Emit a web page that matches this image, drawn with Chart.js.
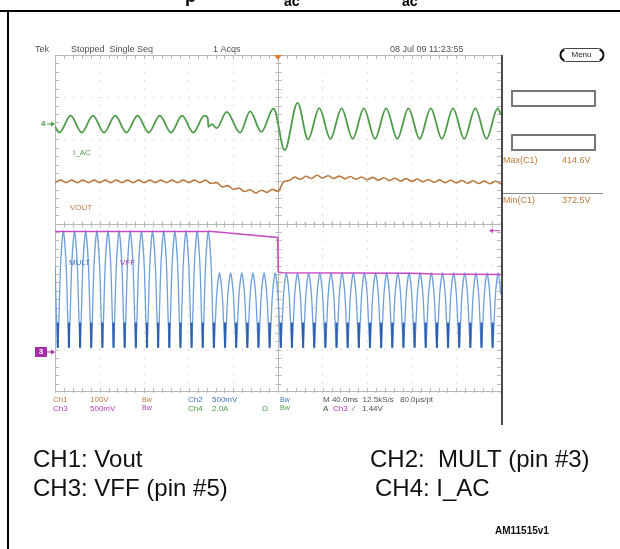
<!DOCTYPE html>
<html>
<head>
<meta charset="utf-8">
<title>Line step response</title>
<script src="https://cdn.jsdelivr.net/npm/chart.js@4.4.0/dist/chart.umd.min.js"></script>
<style>
  html, body { margin: 0; padding: 0; background: #fff; }
  #wrap { width: 620px; height: 549px; }
</style>
</head>
<body>
<div id="wrap"><canvas id="scope" width="620" height="549"></canvas></div>
<script>
// time base: 10 divisions of 40 ms, trigger in the middle
const timeBase = 40;
const tMax = 400;
const trigTime = 200;

// volts (amps) per division and ground marker position, in divisions from centre
const ch1PerDiv = 100, ch1Pos = -3.0;   // Vout
const ch2PerDiv = 0.5, ch2Pos = -2.95;  // MULT
const ch3PerDiv = 0.5, ch3Pos = -3.05;  // VFF
const ch4PerDiv = 2.0, ch4Pos = 2.36;   // I_AC

// Ch1 Vout [V], ripple bottoms and tops, one reading every 5 ms
const voutStep = 5;
const voutV = [
  397, 403, 397, 403, 397, 403, 397, 403, 397, 403,
  397, 403, 397, 403, 397, 403, 397, 403, 397, 403,
  397, 403, 397, 403, 397, 403, 397, 403, 395, 397,
  387, 390, 381, 384, 376, 380, 372.5, 379, 374, 381,
  376, 399, 402, 410, 405, 412, 407, 414.6, 408, 413.5,
  407, 412.5, 406, 411.5, 405, 410.5, 404, 409.5, 403, 408.5,
  402, 407.5, 401, 406.5, 400, 405.5, 399, 404.5, 398, 403.5,
  397, 402.7, 396.4, 402, 395.7, 401.4, 395, 400.7, 394.5, 400.3,
  394
];

// Ch2 MULT [V], one reading every 2.5 ms (shoulder, zero, shoulder, peak)
const multStep = 2.5;
const multV = [
  0.98, 0, 0.98, 1.39,  0.98, 0, 0.98, 1.39,
  0.98, 0, 0.98, 1.39,  0.98, 0, 0.98, 1.39,
  0.98, 0, 0.98, 1.39,  0.98, 0, 0.98, 1.39,
  0.98, 0, 0.98, 1.39,  0.98, 0, 0.98, 1.39,
  0.98, 0, 0.98, 1.39,  0.98, 0, 0.98, 1.39,
  0.98, 0, 0.98, 1.39,  0.98, 0, 0.98, 1.39,
  0.98, 0, 0.98, 1.39,  0.98, 0, 0.98, 1.39,
  0.98, 0, 0.63, 0.89,  0.63, 0, 0.63, 0.89,
  0.63, 0, 0.63, 0.89,  0.63, 0, 0.63, 0.89,
  0.63, 0, 0.63, 0.89,  0.63, 0, 0.63, 0.89,
  0.63, 0, 0.63, 0.89,  0.63, 0, 0.63, 0.89,
  0.63, 0, 0.63, 0.89,  0.63, 0, 0.63, 0.89,
  0.63, 0, 0.63, 0.89,  0.63, 0, 0.63, 0.89,
  0.63, 0, 0.63, 0.89,  0.63, 0, 0.63, 0.89,
  0.63, 0, 0.63, 0.89,  0.63, 0, 0.63, 0.89,
  0.63, 0, 0.63, 0.89,  0.63, 0, 0.63, 0.89,
  0.63, 0, 0.63, 0.89,  0.63, 0, 0.63, 0.89,
  0.63, 0, 0.63, 0.89,  0.63, 0, 0.63, 0.89,
  0.63, 0, 0.63, 0.89,  0.63, 0, 0.63, 0.89,
  0.63, 0, 0.63, 0.89,  0.63, 0, 0.63, 0.89,
  0.63
];

// Ch3 VFF [V]
const vffT = [0, 141, 199.7, 200.3, 204, 320, 340, 400];
const vffV = [1.43, 1.43, 1.36, 0.95, 0.94, 0.935, 0.925, 0.92];

// Ch4 I_AC [A], peaks and troughs
const iacT = [0, 4, 14, 24, 34, 44, 54, 64, 74, 84, 94, 104, 114, 124, 134,
  137, 137.6, 140.5, 145, 154, 166, 175, 185, 196, 206, 217.5, 227,
  237, 247, 257, 267, 277, 287, 297, 307, 317, 327, 337, 347, 357, 367, 377, 387, 397, 400];
const iacA = [-0.12, -0.4, 0.4, -0.4, 0.4, -0.4, 0.4, -0.4, 0.4, -0.4, 0.4, -0.4, 0.4, -0.4, 0.4,
  0.27, -0.13, 0.0, -0.19, 0.58, -0.41, 0.6, -0.37, 0.74, -1.24, 1.01, -0.73,
  0.76, -0.7, 0.75, -0.7, 0.75, -0.7, 0.75, -0.7, 0.75, -0.7, 0.75, -0.7, 0.75, -0.7, 0.75, -0.7, 0.75, 0.45];

// trigger: A Ch3 rising 1.44 V
const trigLevel = 1.44;
const measMax = ['Max(C1)', '414.6V'];
const measMin = ['Min(C1)', '372.5V'];

const colVout = '#bb7a42', colMult = '#6fa0da', colMultDark = '#2f5fae';
const colVff = '#c64cc6', colIac = '#4c9c48';

function toDiv(v, perDiv, pos) { return v / perDiv + pos; }

const voutPts = voutV.map((v, i) => ({ x: i * voutStep, y: toDiv(v, ch1PerDiv, ch1Pos) }));
const multPts = multV.map((v, i) => ({ x: i * multStep, y: toDiv(v, ch2PerDiv, ch2Pos) }));
const vffPts = vffT.map((t, i) => ({ x: t, y: toDiv(vffV[i], ch3PerDiv, ch3Pos) }));
const iacPts = iacT.map((t, i) => ({ x: t, y: toDiv(iacA[i], ch4PerDiv, ch4Pos) }));

function put(ctx, s, x, y, color, font, align) {
  ctx.fillStyle = color;
  ctx.font = font;
  ctx.textAlign = align || 'left';
  ctx.textBaseline = 'middle';
  ctx.fillText(s, x, y);
}

const small = '9px "Liberation Sans", Arial, sans-serif';
const tiny = '8px "Liberation Sans", Arial, sans-serif';

const scopeDecor = {
  id: 'scopeDecor',
  beforeDatasetsDraw(chart) {
    const { ctx, chartArea: a, scales: { x, y } } = chart;
    ctx.save();
    ctx.strokeStyle = '#b8b8b8';
    ctx.lineWidth = 1;
    ctx.beginPath();
    const cx = Math.round(x.getPixelForValue(trigTime)) + 0.5;
    const cy = Math.round(y.getPixelForValue(0)) + 0.5;
    ctx.moveTo(a.left + 0.5, a.top); ctx.lineTo(a.left + 0.5, a.bottom);
    ctx.moveTo(a.left, a.top + 0.5); ctx.lineTo(a.right, a.top + 0.5);
    ctx.moveTo(a.left, a.bottom - 0.5); ctx.lineTo(a.right, a.bottom - 0.5);
    ctx.moveTo(cx, a.top); ctx.lineTo(cx, a.bottom);
    ctx.moveTo(a.left, cy); ctx.lineTo(a.right, cy);
    // five minor ticks per division on the edges and the centre cross
    for (let i = 1; i < 50; i++) {
      const px = Math.round(x.getPixelForValue(i * timeBase / 5)) + 0.5;
      ctx.moveTo(px, a.top); ctx.lineTo(px, a.top + 4);
      ctx.moveTo(px, a.bottom); ctx.lineTo(px, a.bottom - 4);
      ctx.moveTo(px, cy - 3); ctx.lineTo(px, cy + 3);
    }
    for (let i = 1; i < 40; i++) {
      const py = Math.round(y.getPixelForValue(-4 + i / 5)) + 0.5;
      ctx.moveTo(a.left, py); ctx.lineTo(a.left + 4, py);
      ctx.moveTo(a.right, py); ctx.lineTo(a.right - 4, py);
      ctx.moveTo(cx - 3, py); ctx.lineTo(cx + 3, py);
    }
    ctx.stroke();
    ctx.restore();
  },
  afterDatasetsDraw(chart) {
    const { ctx, chartArea: a, scales: { x, y } } = chart;
    ctx.save();
    // MULT: dense trace near the zero cusps
    ctx.strokeStyle = colMultDark;
    ctx.lineWidth = 2.2;
    ctx.beginPath();
    const y0 = y.getPixelForValue(toDiv(0, ch2PerDiv, ch2Pos));
    const y1 = y.getPixelForValue(toDiv(0.3, ch2PerDiv, ch2Pos));
    multV.forEach((v, i) => {
      if (v !== 0) return;
      const px = x.getPixelForValue(i * multStep);
      ctx.moveTo(px, y0); ctx.lineTo(px, y1);
    });
    ctx.stroke();

    // trigger position marker
    const tx = x.getPixelForValue(trigTime);
    ctx.fillStyle = '#ee7a2c';
    ctx.beginPath();
    ctx.moveTo(tx - 4, a.top); ctx.lineTo(tx + 4, a.top); ctx.lineTo(tx, a.top + 5);
    ctx.closePath(); ctx.fill();

    // trigger level marker
    const ty = y.getPixelForValue(toDiv(trigLevel, ch3PerDiv, ch3Pos));
    ctx.strokeStyle = colVff; ctx.fillStyle = colVff; ctx.lineWidth = 1;
    ctx.beginPath(); ctx.moveTo(a.right - 9, ty); ctx.lineTo(a.right - 1, ty); ctx.stroke();
    ctx.beginPath();
    ctx.moveTo(a.right - 12, ty); ctx.lineTo(a.right - 8, ty - 2.5); ctx.lineTo(a.right - 8, ty + 2.5);
    ctx.closePath(); ctx.fill();

    // channel ground markers
    const g4 = y.getPixelForValue(ch4Pos);
    put(ctx, '4', 41, g4, colIac, 'bold 8px "Liberation Sans", Arial, sans-serif');
    ctx.strokeStyle = colIac; ctx.fillStyle = colIac;
    ctx.beginPath(); ctx.moveTo(47, g4); ctx.lineTo(53, g4); ctx.stroke();
    ctx.beginPath(); ctx.moveTo(55, g4); ctx.lineTo(51, g4 - 2.5); ctx.lineTo(51, g4 + 2.5); ctx.closePath(); ctx.fill();

    const g3 = y.getPixelForValue(ch3Pos);
    ctx.fillStyle = '#a62ca8';
    ctx.fillRect(35, g3 - 5, 12, 10);
    put(ctx, '3', 41, g3, '#fff', 'bold 8px "Liberation Sans", Arial, sans-serif', 'center');
    ctx.strokeStyle = '#a62ca8'; ctx.fillStyle = '#a62ca8';
    ctx.beginPath(); ctx.moveTo(47, g3); ctx.lineTo(53, g3); ctx.stroke();
    ctx.beginPath(); ctx.moveTo(55, g3); ctx.lineTo(51, g3 - 2.5); ctx.lineTo(51, g3 + 2.5); ctx.closePath(); ctx.fill();
    ctx.restore();
  },
  afterDraw(chart) {
    const { ctx, chartArea: a } = chart;
    ctx.save();

    // page frame and clipped heading
    ctx.fillStyle = '#000';
    ctx.fillRect(0, 10, 620, 2);
    ctx.fillRect(7, 10, 2, 539);
    ctx.textAlign = 'left'; ctx.textBaseline = 'alphabetic';
    ctx.font = 'bold 18px "Liberation Sans", Arial, sans-serif';
    ctx.fillText('p', 185, 1.5);
    ctx.font = 'bold 14px "Liberation Sans", Arial, sans-serif';
    ctx.fillText('ac', 284, 6);
    ctx.fillText('ac', 402, 6);

    // scope status line
    const grey = '#505050';
    put(ctx, 'Tek', 35, 49.5, grey, small);
    put(ctx, 'Stopped  Single Seq', 71, 49.5, grey, small);
    put(ctx, '1 Acqs', 213, 49.5, grey, small);
    put(ctx, '08 Jul 09 11:23:55', 390, 49.5, grey, small);

    // Menu button, heavier rounded ends
    ctx.strokeStyle = '#444'; ctx.lineWidth = 1;
    ctx.beginPath(); ctx.roundRect(560.5, 48.5, 43, 13, 5); ctx.stroke();
    ctx.strokeStyle = '#111'; ctx.lineWidth = 2;
    ctx.beginPath(); ctx.arc(566, 55, 5.5, Math.PI * 0.6, Math.PI * 1.4); ctx.stroke();
    ctx.beginPath(); ctx.arc(598, 55, 5.5, -Math.PI * 0.4, Math.PI * 0.4); ctx.stroke();
    put(ctx, 'Menu', 581.5, 55, '#222', tiny, 'center');

    // side panel
    ctx.strokeStyle = '#777'; ctx.lineWidth = 2;
    ctx.strokeRect(512, 91, 83, 15);
    ctx.strokeRect(512, 135, 83, 15);
    const meas = '#c27a3a';
    put(ctx, measMax[0], 503, 161, meas, small);
    put(ctx, measMax[1], 562, 161, meas, small);
    ctx.strokeStyle = '#888'; ctx.lineWidth = 1;
    ctx.beginPath(); ctx.moveTo(503, 193.5); ctx.lineTo(603, 193.5); ctx.stroke();
    put(ctx, measMin[0], 503, 201, meas, small);
    put(ctx, measMin[1], 562, 201, meas, small);

    // screen right edge
    ctx.strokeStyle = '#4a4a4a'; ctx.lineWidth = 2;
    ctx.beginPath(); ctx.moveTo(a.right + 1, a.top); ctx.lineTo(a.right + 1, 425); ctx.stroke();

    // trace labels
    put(ctx, 'I_AC', 73, 153, colIac, tiny);
    put(ctx, 'VOUT', 70, 208, colVout, tiny);
    put(ctx, 'MULT', 69, 263, '#3f74c0', tiny);
    put(ctx, 'VFF', 120, 263, '#a83aa8', tiny);

    // readout
    const r1 = 400, r2 = 408.5;
    const bw = '7px "Liberation Sans", Arial, sans-serif';
    put(ctx, 'Ch1', 53, r1, colVout, tiny);
    put(ctx, '100V', 90, r1, colVout, tiny);
    put(ctx, 'Bw', 142, r1, colVout, bw);
    put(ctx, 'Ch2', 188, r1, '#3f74c0', tiny);
    put(ctx, '500mV', 212, r1, '#3f74c0', tiny);
    put(ctx, 'Bw', 280, r1, '#3f74c0', bw);
    put(ctx, 'M 40.0ms  12.5kS/s', 323, r1, grey, tiny);
    put(ctx, '80.0\u00b5s/pt', 400, r1, grey, tiny);
    put(ctx, 'Ch3', 53, r2, '#b43cb4', tiny);
    put(ctx, '500mV', 90, r2, '#b43cb4', tiny);
    put(ctx, 'Bw', 142, r2, '#b43cb4', bw);
    put(ctx, 'Ch4', 188, r2, colIac, tiny);
    put(ctx, '2.0A', 212, r2, colIac, tiny);
    put(ctx, '\u03a9', 262, r2, colIac, tiny);
    put(ctx, 'Bw', 280, r2, colIac, bw);
    put(ctx, 'A', 323, r2, grey, tiny);
    put(ctx, 'Ch3', 333, r2, '#b43cb4', tiny);
    put(ctx, '\u2044', 353, r2, grey, tiny);
    put(ctx, trigLevel.toFixed(2) + 'V', 362, r2, grey, tiny);

    // channel legend
    ctx.fillStyle = '#111';
    ctx.font = '24px "Liberation Sans", Arial, sans-serif';
    ctx.textAlign = 'left'; ctx.textBaseline = 'alphabetic';
    ctx.fillText('CH1: Vout', 33, 467);
    ctx.fillText('CH2:  MULT (pin #3)', 370, 467);
    ctx.fillText('CH3: VFF (pin #5)', 33, 496);
    ctx.fillText('CH4: I_AC', 375, 496);
    put(ctx, 'AM11515v1', 495, 531, '#111', 'bold 10px "Liberation Sans", Arial, sans-serif');
    ctx.restore();
  }
};

new Chart(document.getElementById('scope'), {
  type: 'line',
  data: {
    datasets: [
      { label: 'VFF', data: vffPts, borderColor: colVff, borderWidth: 1.6, tension: 0, order: 0 },
      { label: 'MULT', data: multPts, borderColor: colMult, borderWidth: 1.3, tension: 0.25, order: 1 },
      { label: 'I_AC', data: iacPts, borderColor: colIac, borderWidth: 1.8, cubicInterpolationMode: 'monotone', order: 2 },
      { label: 'Vout', data: voutPts, borderColor: colVout, borderWidth: 1.6, cubicInterpolationMode: 'monotone', order: 3 }
    ]
  },
  options: {
    responsive: false,
    devicePixelRatio: 1,
    animation: false,
    layout: { padding: { left: 55, top: 55, right: 119, bottom: 157 } },
    elements: { point: { radius: 0 } },
    plugins: { legend: { display: false }, tooltip: { enabled: false } },
    scales: {
      x: {
        type: 'linear', min: 0, max: tMax,
        ticks: { display: false, stepSize: timeBase },
        grid: { color: '#c2c2c2', drawTicks: false },
        border: { display: false, dash: [1, 7.4] }
      },
      y: {
        min: -4, max: 4,
        ticks: { display: false, stepSize: 1 },
        grid: { color: '#c2c2c2', drawTicks: false },
        border: { display: false, dash: [1, 7.9] }
      }
    }
  },
  plugins: [scopeDecor]
});
</script>
</body>
</html>
